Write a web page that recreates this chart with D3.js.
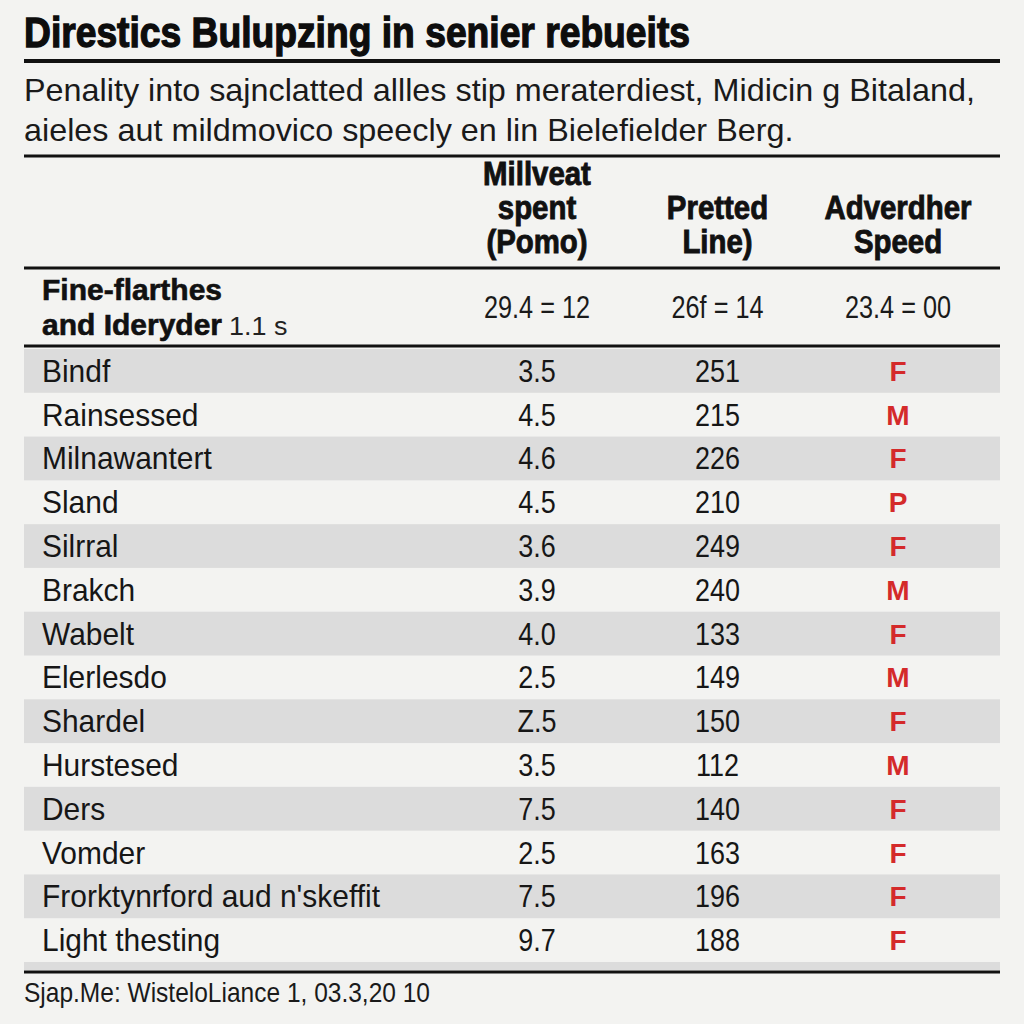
<!DOCTYPE html>
<html><head><meta charset="utf-8">
<script src="https://cdn.jsdelivr.net/npm/d3@7"></script>
<style>
html,body{margin:0;padding:0;background:#f3f3f1;}
svg{display:block;}
text{font-family:"Liberation Sans","Arial",sans-serif;}
</style></head>
<body><svg id="c" width="1024" height="1024"></svg>
<script>
const title = "Direstics Bulupzing in senier rebueits";
const subtitleLines = ["Penality into sajnclatted allles stip meraterdiest, Midicin g Bitaland,",
                       "aieles aut mildmovico speecly en lin Bielefielder Berg."];
const columnHeaders = [["Millveat","spent","(Pomo)"],["Pretted","Line)"],["Adverdher","Speed"]];
const summaryLabel = ["Fine-flarthes", "and Ideryder"];
const summarySuffix = "1.1 s";
const summaryValues = ["29.4 = 12", "26f = 14", "23.4 = 00"];
const categories = ["Bindf","Rainsessed","Milnawantert","Sland","Silrral","Brakch","Wabelt","Elerlesdo","Shardel","Hurstesed","Ders","Vomder","Frorktynrford aud n'skeffit","Light thesting"];
const pomoValues = ["3.5","4.5","4.6","4.5","3.6","3.9","4.0","2.5","Z.5","3.5","7.5","2.5","7.5","9.7"];
const lineValues = [251,215,226,210,249,240,133,149,150,112,140,163,196,188];
const speedValues = ["F","M","F","P","F","M","F","M","F","M","F","F","F","F"];
const footer = "Sjap.Me: WistelоLiance 1, 03.3,20 10";

const svg = d3.select("#c");
const L = 24, R = 1000;
svg.append("rect").attr("width",1024).attr("height",1024).attr("fill","#f3f3f1");

function factor(sample, size, weight, target){
  const t = svg.append("text").attr("font-size",size).attr("font-weight",weight).text(sample);
  const w = t.node().getComputedTextLength(); t.remove(); return target / w;
}
function condense(sel, k){
  sel.each(function(){ const w = this.getComputedTextLength();
    d3.select(this).attr("textLength", w*k).attr("lengthAdjust","spacingAndGlyphs"); });
  return sel;
}
function hline(y,w){svg.append("line").attr("x1",L).attr("x2",R).attr("y1",y).attr("y2",y).attr("stroke","#111").attr("stroke-width",w);}

// title
const kTitle = factor(title,42,"bold",666);
condense(svg.append("text").attr("x",L).attr("y",47).attr("font-size",42).attr("font-weight","bold")
  .attr("fill","#0d0d0d").attr("stroke","#0d0d0d").attr("stroke-width",1.3).text(title), kTitle);
hline(61,4);
const kSub = factor(subtitleLines[0],32,"normal",951);
subtitleLines.forEach((t,i)=>condense(svg.append("text").attr("x",L).attr("y",101+i*40).attr("font-size",32).attr("fill","#1a1a1a").text(t), kSub));
hline(156,3);

const colX = d3.scalePoint().domain([0,1,2]).range([537,898]);
const kHead = factor("Adverdher",33,"bold",147);
columnHeaders.forEach((lines,ci)=>{
  const n = lines.length;
  lines.forEach((t,li)=>{
    condense(svg.append("text").attr("x",colX(ci)).attr("y",253-(n-1-li)*34).attr("text-anchor","middle")
      .attr("font-size",33).attr("font-weight","bold").attr("fill","#111")
      .attr("stroke","#111").attr("stroke-width",0.9).text(t), kHead);
  });
});
hline(268,3);
// summary row
const kSum = factor("Fine-flarthes",29,"bold",180);
condense(svg.append("text").attr("x",42).attr("y",300).attr("font-size",29).attr("font-weight","bold").attr("fill","#111")
  .attr("stroke","#111").attr("stroke-width",0.6).text(summaryLabel[0]), kSum);
const s2a = svg.append("text").attr("x",42).attr("y",335).attr("font-size",29).attr("font-weight","bold").attr("fill","#111")
  .attr("stroke","#111").attr("stroke-width",0.6).text(summaryLabel[1]);
condense(s2a, kSum);
const s2w = s2a.node().getBBox().width;
condense(svg.append("text").attr("x",42+s2w+7).attr("y",335).attr("font-size",26).attr("fill","#222").text(summarySuffix), kSum);
const kSumV = factor("29.4 = 12",31,"normal",106);
summaryValues.forEach((v,i)=>condense(svg.append("text").attr("x",colX(i)).attr("y",318).attr("text-anchor","middle")
  .attr("font-size",31).attr("fill","#1a1a1a").text(v), kSumV));
hline(346,3);

// rows
const y = d3.scaleBand().domain(categories).range([349,962]).paddingInner(0);
const bw = y.bandwidth();
const rows = svg.append("g").selectAll("g").data(categories).join("g")
  .attr("transform",d=>`translate(0,${y(d)})`);
rows.filter((d,i)=>i%2===0).append("rect").attr("x",L).attr("width",R-L).attr("height",bw).attr("fill","#dcdcdc");
const kRow = factor("Frorktynrford aud n'skeffit",32,"normal",338);
const kVal = factor("251",32,"normal",45);
condense(rows.append("text").attr("x",42).attr("y",bw/2+11).attr("font-size",32).attr("fill","#161616").text(d=>d), kRow);
condense(rows.append("text").attr("x",colX(0)).attr("y",bw/2+11).attr("text-anchor","middle").attr("font-size",32).attr("fill","#161616").text((d,i)=>pomoValues[i]), kVal);
condense(rows.append("text").attr("x",colX(1)).attr("y",bw/2+11).attr("text-anchor","middle").attr("font-size",32).attr("fill","#161616").text((d,i)=>lineValues[i]), kVal);
rows.append("text").attr("x",colX(2)).attr("y",bw/2+10).attr("text-anchor","middle").attr("font-size",28).attr("font-weight","bold").attr("fill","#d42a2a").text((d,i)=>speedValues[i]);
svg.append("rect").attr("x",L).attr("y",962).attr("width",R-L).attr("height",8).attr("fill","#dcdcdc");
hline(972,3);
const kFoot = factor(footer,28,"normal",406);
condense(svg.append("text").attr("x",L).attr("y",1002).attr("font-size",28).attr("fill","#1a1a1a").text(footer), kFoot);
</script></body></html>
